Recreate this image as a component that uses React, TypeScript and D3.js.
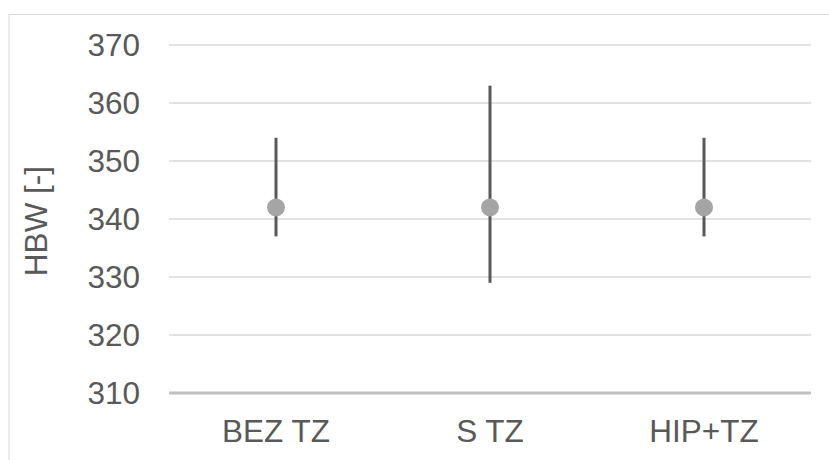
import React from "react";
import * as d3 from "d3";

const categories = ["BEZ TZ", "S TZ", "HIP+TZ"];
const meanValues = [342, 342, 342];
const highValues = [354, 363, 354];
const lowValues = [337, 329, 337];
const yTicks = [310, 320, 330, 340, 350, 360, 370];
const yTitle = "HBW [-]";

const W = 829;
const H = 460;
const plotLeft = 169;
const plotRight = 811;
const plotTop = 45;
const plotBottom = 393;
const font = "'Liberation Sans', Arial, sans-serif";
const textColor = "#595959";
const fs = 31.5;

export default function App() {
  const x = d3.scaleBand<string>().domain(categories).range([plotLeft, plotRight]);
  const y = d3.scaleLinear().domain([310, 370]).range([plotBottom, plotTop]);
  return (
    <svg
      width={W}
      height={H}
      style={{ position: "absolute", left: 0, top: 0, background: "#fff" }}
    >
      <rect x={9} y={14.5} width={W + 10} height={H + 10} fill="#fff" stroke="#d9d9d9" strokeWidth={1} />
      {yTicks.map((t) =>
        t === 310 ? null : (
          <line key={t} x1={plotLeft} x2={plotRight} y1={y(t)} y2={y(t)} stroke="#d9d9d9" strokeWidth={1.5} />
        )
      )}
      <line x1={plotLeft} x2={plotRight} y1={y(310)} y2={y(310)} stroke="#bfbfbf" strokeWidth={3} />
      {yTicks.map((t) => (
        <text
          key={"l" + t}
          x={140}
          y={y(t)}
          dy="0.35em"
          textAnchor="end"
          fontFamily={font}
          fontSize={fs}
          fill={textColor}
        >
          {t}
        </text>
      ))}
      <text
        transform={`translate(47,221) rotate(-90)`}
        textAnchor="middle"
        fontFamily={font}
        fontSize={fs}
        fill={textColor}
      >
        {yTitle}
      </text>
      {categories.map((c, i) => {
        const cx = (x(c) as number) + x.bandwidth() / 2;
        return (
          <g key={c}>
            <line x1={cx} x2={cx} y1={y(highValues[i])} y2={y(lowValues[i])} stroke="#595959" strokeWidth={3} />
            <circle cx={cx} cy={y(meanValues[i])} r={9} fill="#a5a5a5" />
            <text x={cx} y={442} textAnchor="middle" fontFamily={font} fontSize={fs} fill={textColor}>
              {c}
            </text>
          </g>
        );
      })}
    </svg>
  );
}
